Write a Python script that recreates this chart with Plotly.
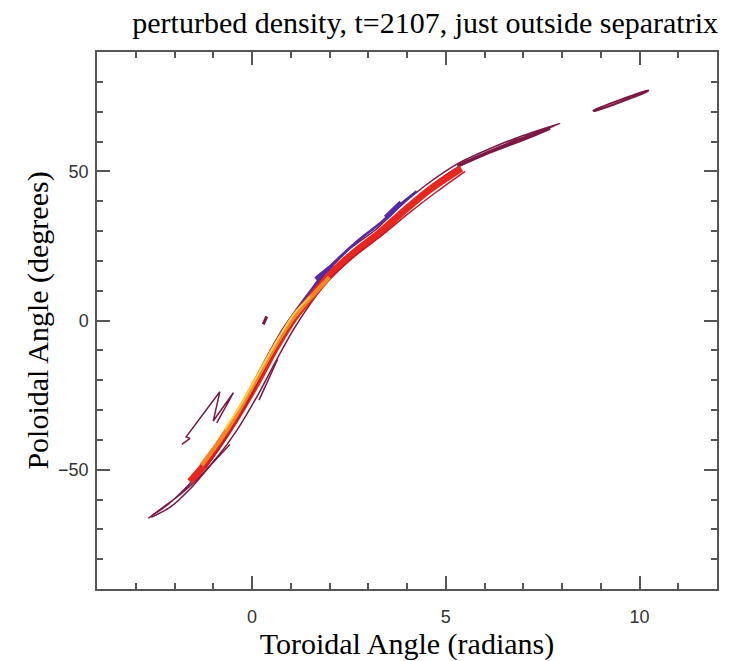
import plotly.graph_objects as go

# ---------------- data ----------------
# outer maroon contour (closed narrow loop along the main ridge)
outer_x = [-2.68, -2.2, -1.7, -1.3, -0.9, -0.45, 0.0, 0.45, 0.95, 1.4, 1.9, 2.5, 3.2, 3.8, 4.5, 5.3, 6.3, 7.0, 7.95,
           7.6, 6.8, 6.0, 5.2, 4.5, 3.8, 3.2, 2.6, 2.0, 1.5, 1.05, 0.6, 0.15, -0.4, -0.85, -1.4, -1.9, -2.68]
outer_y = [-66.3, -62.0, -56.0, -50.0, -42.5, -33.5, -22.5, -12.5, -1.0, 7.0, 15.8, 23.8, 30.5, 38.0, 45.5, 52.5, 58.5, 62.0, 66.1,
           64.2, 60.5, 56.0, 50.5, 44.0, 36.0, 28.5, 21.5, 14.0, 5.5, -3.5, -14.0, -25.0, -37.0, -45.0, -53.0, -58.8, -66.3]

# lower-left thin contour below the ridge
lowleft_x = [-2.6, -2.1, -1.6, -1.1, -0.57]
lowleft_y = [-66.0, -62.5, -56.5, -49.0, -41.6]

# thick maroon tail (upper right)
tail_x = [5.3, 6.0, 6.7, 7.2, 7.69]
tail_y = [51.8, 55.8, 59.3, 61.8, 64.5]

# isolated segment
iso_x = [8.81, 10.23, 10.2, 8.83, 8.81]
iso_y = [70.4, 77.2, 76.8, 70.2, 70.4]

# small blob
blob_x = [0.29, 0.38]
blob_y = [-1.3, 1.4]

# zig-zag contour left of the ridge
zig_x = [-1.81, -1.60, -1.70, -1.08, -0.83, -1.00, -0.48, -0.57, -0.91]
zig_y = [-41.5, -39.5, -39.0, -28.1, -23.9, -33.7, -24.2, -26.4, -34.3]

# thin contour right of the ridge
right_x = [0.18, 0.40, 0.66]
right_y = [-26.7, -20.5, -13.0]

# purple contours on the upper edge
purple_x = [-0.14, 0.3, 0.75, 1.2, 1.6, 1.85, 2.2, 2.8, 3.3, 3.82, 4.25]
purple_y = [-25.5, -14.5, -4.0, 4.5, 11.5, 16.0, 20.5, 27.5, 32.5, 38.8, 43.3]
ppatch1_x = [1.65, 1.95, 2.1]
ppatch1_y = [13.8, 17.0, 18.2]
ppatch2_x = [3.45, 3.65, 3.85]
ppatch2_y = [34.5, 37.0, 39.5]

# red band
red_x = [-1.6, -1.3, -0.9, -0.4, 0.1, 0.6, 1.1, 1.6, 2.1, 2.7, 3.3, 3.9, 4.6, 5.4]
red_y = [-54.0, -49.5, -42.5, -32.5, -21.5, -9.5, 1.0, 9.0, 16.5, 23.5, 29.5, 36.5, 44.0, 51.0]

# dark red contour inside the band
dred_x = [-1.2, -0.7, -0.2, 0.3, 0.8, 1.3, 1.9, 2.6, 3.3, 4.0, 4.8, 5.5]
dred_y = [-49.5, -40.0, -29.5, -17.0, -5.5, 4.0, 12.5, 21.0, 28.0, 35.5, 43.5, 50.0]

# orange core
orange_x = [-1.3, -0.9, -0.4, 0.1, 0.6, 1.1, 1.6, 2.0]
orange_y = [-48.5, -41.5, -31.5, -20.0, -8.5, 1.5, 9.0, 14.5]

# yellow core
yellow_x = [-0.7, -0.3, 0.2, 0.7, 1.1, 1.5]
yellow_y = [-36.5, -28.5, -17.0, -5.5, 2.5, 8.0]

x_ticks = [0, 5, 10]
y_ticks = [-50, 0, 50]

MAROON = "#7a1744"
PURPLE = "#5229a8"
RED = "#e8261c"
DRED = "#c0182c"
ORANGE = "#f5861f"
YELLOW = "#f6d040"

lines = [
    (outer_x, outer_y, MAROON, 1.5),
    (lowleft_x, lowleft_y, MAROON, 1.5),
    (tail_x, tail_y, MAROON, 3.5),
    (iso_x, iso_y, MAROON, 2),
    (blob_x, blob_y, MAROON, 3),
    (zig_x, zig_y, MAROON, 1.5),
    (right_x, right_y, MAROON, 1.5),
    (purple_x, purple_y, PURPLE, 2.5),
    (ppatch1_x, ppatch1_y, PURPLE, 5),
    (ppatch2_x, ppatch2_y, PURPLE, 5),
    (red_x, red_y, RED, 7),
    (dred_x, dred_y, DRED, 1.5),
    (orange_x, orange_y, ORANGE, 4.5),
    (yellow_x, yellow_y, YELLOW, 2),
]

fig = go.Figure()
for xs, ys, col, w in lines:
    shape = "linear" if xs is zig_x else "spline"
    fig.add_trace(go.Scatter(x=xs, y=ys, mode="lines",
                             line=dict(color=col, width=w, shape=shape, smoothing=0.6),
                             hoverinfo="skip", showlegend=False))

axis_common = dict(
    showgrid=False, zeroline=False, showline=True, linecolor="#555555", linewidth=1.5,
    mirror="ticks", ticks="inside", ticklen=13, tickwidth=1.5, tickcolor="#555555",
    tickfont=dict(family="Liberation Sans, Arial, sans-serif", size=18, color="#333333"),
    automargin=False,
)

fig.update_layout(
    width=732, height=661,
    margin=dict(l=97, r=15, t=52, b=72),
    paper_bgcolor="white", plot_bgcolor="white",
    title=dict(text="perturbed density, t=2107, just outside separatrix",
               font=dict(family="Liberation Serif, Times New Roman, serif", size=30, color="black"),
               xref="container", x=718/732, xanchor="right",
               yref="container", y=1-22/661, yanchor="middle"),
    xaxis=dict(range=[-4, 12], tickvals=x_ticks, ticktext=[str(v) for v in x_ticks],
               minor=dict(dtick=1, ticklen=6, ticks="inside", tickcolor="#555555", tickwidth=1.5),
               title=dict(text="Toroidal Angle (radians)", standoff=12,
                          font=dict(family="Liberation Serif, Times New Roman, serif", size=30, color="black")),
               ticklabelstandoff=11,
               **axis_common),
    yaxis=dict(range=[-90, 90], tickvals=y_ticks, ticktext=["\u221250", "0", "50"],
               minor=dict(dtick=10, ticklen=6, ticks="inside", tickcolor="#555555", tickwidth=1.5),
               title=dict(text="Poloidal Angle (degrees)", standoff=1,
                          font=dict(family="Liberation Serif, Times New Roman, serif", size=30, color="black")),
               ticklabelstandoff=3,
               **axis_common),
)

fig.write_html("out.html")
